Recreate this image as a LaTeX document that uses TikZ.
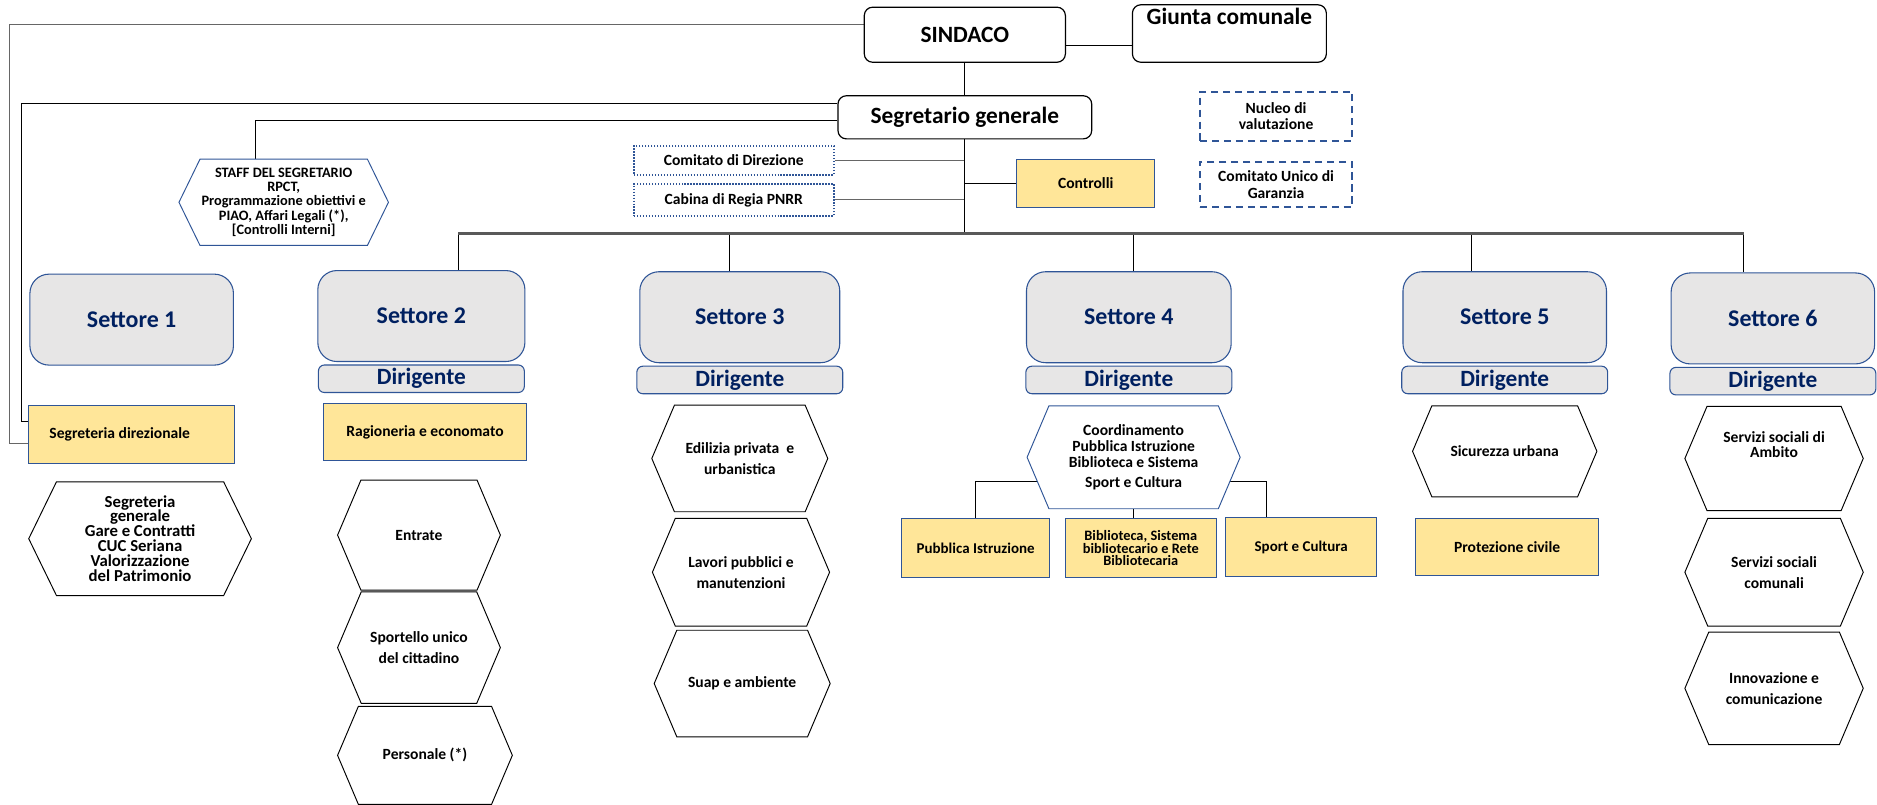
\documentclass[tikz,border=0pt]{standalone}
\usepackage{fontspec}
\setmainfont{Carlito}
\usepackage{xcolor}
\definecolor{bordo}{RGB}{47,85,151}
\definecolor{blunotte}{RGB}{0,32,96}
\definecolor{grigiobox}{RGB}{231,230,230}
\definecolor{giallo}{RGB}{255,230,153}
\definecolor{grigiobus}{RGB}{89,89,89}
\usepackage{tikz}
\usetikzlibrary{shapes.symbols,positioning,calc,backgrounds}
\tikzset{
  capo/.style={rectangle,rounded corners=7pt,
    draw=black,line width=1pt,fill=white,align=center,
    font=\fontsize{19.5}{22}\selectfont\bfseries},
  settore/.style={rectangle,rounded corners=16pt,
    draw=bordo,line width=0.9pt,fill=grigiobox,text=blunotte,
    font=\fontsize{20}{23}\selectfont\bfseries,
    minimum width=170pt,minimum height=76pt},
  dirig/.style={rectangle,rounded corners=5pt,
    draw=bordo,line width=0.9pt,fill=grigiobox,text=blunotte,
    font=\fontsize{19.5}{22}\selectfont\bfseries,
    minimum width=172pt,minimum height=23pt,inner sep=0pt},
  ufficio/.style={rectangle,
    draw=bordo,line width=0.9pt,fill=giallo,align=center,
    font=\fontsize{13}{15}\selectfont\bfseries,
    minimum height=48pt},
  servizio/.style={signal,signal to=west and east,signal pointer angle=134,
    draw=black,line width=0.8pt,fill=white,align=center,
    font=\fontsize{13}{17.5}\selectfont\bfseries},
  organo/.style={rectangle,draw=bordo,line width=1.6pt,
    dash pattern=on 6pt off 4pt,align=center,
    font=\fontsize{13}{14}\selectfont\bfseries},
  tavolo/.style={rectangle,draw=bordo,line width=1.3pt,
    dash pattern=on 1.2pt off 1.3pt,align=center,
    font=\fontsize{13}{15}\selectfont\bfseries},
  filo/.style={draw=black,line width=0.7pt},
  filogrigio/.style={draw=black!60,line width=0.7pt},
  barra/.style={draw=grigiobus,line width=2.6pt},
}

\begin{document}
\begin{tikzpicture}[x=1pt,y=-1pt]
  \useasboundingbox (0,0) rectangle (1568,672);

  % vertice
  \node (sindaco) [capo,minimum width=168pt,minimum height=46pt] at (806,29) {SINDACO};
  \node (giunta) [capo,minimum width=162pt,minimum height=48pt,inner sep=1pt] at (1027,28)
    {Giunta comunale\\ \strut};
  \node (segr) [capo,minimum width=212pt,minimum height=36pt,inner sep=0pt] at (806,98)
    {Segretario generale};

  % staff e organi
  \node (staff) [servizio,draw=bordo,signal pointer angle=128,
    minimum width=175pt,minimum height=72pt,inner sep=0pt,
    font=\fontsize{12}{12}\selectfont\bfseries] at (237,169)
    {STAFF DEL SEGRETARIO\\RPCT,\\Programmazione obiettivi e\\PIAO, Affari Legali (*),\\{}[Controlli Interni]};
  \node (comdir) [tavolo,minimum width=167pt,minimum height=24pt] at (613,134) {Comitato di Direzione};
  \node (cabina) [tavolo,minimum width=167pt,minimum height=27pt] at (613,167) {Cabina di Regia PNRR};
  \node (controlli) [ufficio,minimum width=115pt,minimum height=40pt] at (907,153) {Controlli};
  \node (nucleo) [organo,minimum width=127pt,minimum height=41pt] at (1066,97) {Nucleo di\\valutazione};
  \node (cug) [organo,minimum width=127pt,minimum height=38pt] at (1066,154) {Comitato Unico di\\Garanzia};

  % settori
  \node (set1) [settore] at (110,267) {Settore 1};
  \node (set2) [settore,minimum width=173pt] at (352,264) {Settore 2};
  \node (set3) [settore,minimum width=167pt] at (618,265) {Settore 3};
  \node (set4) [settore,minimum width=171pt] at (943,265) {Settore 4};
  \node (set5) [settore] at (1257,265) {Settore 5};
  \node (set6) [settore] at (1481,266) {Settore 6};
  \foreach \n in {2,...,6}
    \node (dir\n) [dirig,below=2pt of set\n] {Dirigente};

  % settore 1
  \node (segdir) [ufficio,minimum width=172pt] at (110,363)
    {\raisebox{-2pt}{Segreteria direzionale}\hspace*{20pt}};
  \node (segpat) [servizio,signal pointer angle=128,minimum width=186pt,minimum height=95pt,
    inner sep=0pt,font=\fontsize{14}{12.5}\selectfont\bfseries] at (117,450)
    {Segreteria\\[-1.5pt]generale\\Gare e Contratti\\CUC Seriana\\Valorizzazione\\del Patrimonio};

  % settore 2
  \node (ragion) [ufficio,minimum width=170pt] at (355,361) {Ragioneria e economato};
  \node (entrate) [servizio,minimum width=136pt,minimum height=92pt] at (350,447) {Entrate};
  \node (sportello) [servizio,minimum width=136pt,minimum height=93pt] at (350,541)
    {Sportello unico\\del cittadino};
  \node (personale) [servizio,minimum width=146pt,minimum height=82pt] at (355,631) {Personale (*)};

  % settore 3
  \node (edilizia) [servizio,minimum width=147pt,minimum height=89pt] at (618,383)
    {Edilizia privata~ e\\urbanistica};
  \node (lavori) [servizio,minimum width=148pt,minimum height=90pt] at (619,478)
    {Lavori pubblici e\\manutenzioni};
  \node (suap) [servizio,minimum width=147pt,minimum height=89pt] at (620,571) {Suap e ambiente};

  % settore 4
  \node (coord) [servizio,draw=bordo,minimum width=178pt,minimum height=86pt,inner sep=0pt,
    font=\fontsize{13}{13.5}\selectfont\bfseries] at (947,382)
    {Coordinamento\\Pubblica Istruzione\\Biblioteca e Sistema\\[3pt]Sport e Cultura};
  \node (pubbl) [ufficio,minimum width=124pt,minimum height=49pt,
    font=\fontsize{12.5}{14}\selectfont\bfseries] at (815,458) {Pubblica Istruzione};
  \node (biblio) [ufficio,minimum width=126pt,minimum height=49pt,
    font=\fontsize{12}{10}\selectfont\bfseries] at (953,458)
    {Biblioteca, Sistema\\bibliotecario e Rete\\Bibliotecaria};
  \node (sport) [ufficio,minimum width=126pt,minimum height=49pt,
    font=\fontsize{12.5}{14}\selectfont\bfseries] at (1087,457) {Sport e Cultura};

  % settore 5
  \node (sicur) [servizio,minimum width=154pt,minimum height=76pt] at (1257,377) {Sicurezza urbana};
  \node (protez) [ufficio,minimum width=153pt,minimum height=48pt] at (1259,457) {Protezione civile};

  % settore 6
  \node (ambito) [servizio,minimum width=149pt,minimum height=87pt] at (1482,383)
    {Servizi sociali di\\[-5pt]Ambito\\ \strut};
  \node (comunali) [servizio,minimum width=149pt,minimum height=90pt] at (1482,478)
    {Servizi sociali\\comunali};
  \node (innov) [servizio,minimum width=149pt,minimum height=94pt] at (1482,575)
    {Innovazione e\\comunicazione};

  \begin{scope}[on background layer]
    \draw[filo] ($(sindaco.east)+(0,9)$) -- ($(giunta.west)+(0,10)$);
    \draw[filo] (sindaco) -- (segr);
    \draw[filogrigio] ($(sindaco.west)+(0,-9)$) -| ($(segdir.west)+(-16,7)$) -- ($(segdir.west)+(0,7)$);
    \draw[filo] ($(segr.west)+(0,-12)$) -| ($(segdir.west)+(-6,-11)$) -- ($(segdir.west)+(0,-11)$);
    \draw[filo] ($(segr.west)+(0,3)$) -| ($(staff.north)+(-24,0)$);
    \draw[filogrigio] (comdir.east) -- (comdir.east -| segr.south);
    \draw[filogrigio] (cabina.east) -- (cabina.east -| segr.south);
    \draw[filo] (controlli.west) -- (controlli.west -| segr.south);
    \coordinate (busL) at (383,195);
    \coordinate (busR) at (1457,195);
    \draw[filo] (segr.south) -- (segr.south |- busL);
    \foreach \n/\dx in {2/31,3/-9,4/4,5/-28,6/-25}
      \draw[filo] ($(set\n.north)+(\dx,0)$) -- ($(set\n.north |- busL)+(\dx,0)$);
    \draw[barra] (busL) -- (busR);
    \draw[filo] (pubbl.north) |- ($(coord.center)+(0,20)$);
    \draw[filo] (coord.south) -- (coord.south |- biblio.north);
    \draw[filo] ($(sport.north)+(-29,0)$) |- ($(coord.center)+(0,20)$);
  \end{scope}
\end{tikzpicture}
\end{document}
